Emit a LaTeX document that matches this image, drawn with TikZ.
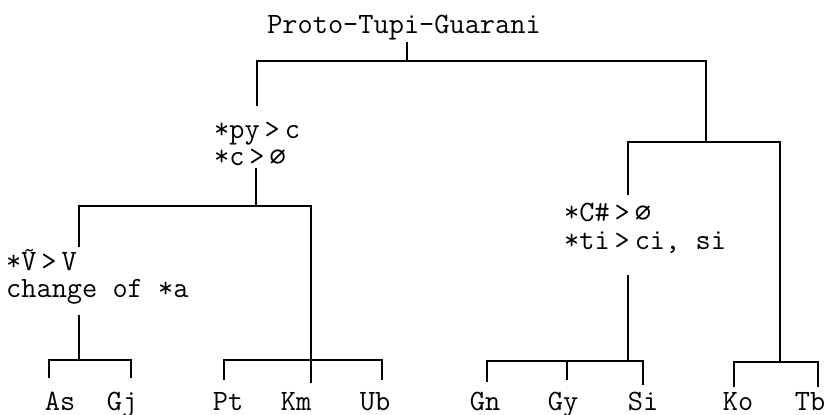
\documentclass[tikz,border=0pt]{standalone}
\usepackage{fontspec}
\newfontfamily\symf{DejaVu Sans Mono}
\newcommand{\nullsym}{{\symf\fontsize{27}{28}\selectfont ∅}}
\newcommand{\Vtil}{\leavevmode\rlap{\hbox to 0.525em{\hss\raisebox{0.42em}{\scalebox{0.8}[0.75]{\char"7E}}\hss}}V}
\tikzset{twfont/.style={font=\ttfamily\addfontfeatures{FakeBold=0.6}\fontsize{29.5}{30}\selectfont}}
\begin{document}
\begin{tikzpicture}[x=1pt,y=-1pt,
  lbl/.style={inner sep=0pt, twfont, anchor=base west},
  leaf/.style={inner sep=0pt, twfont, anchor=base},
  br/.style={line width=2.9pt, line join=miter}]
\useasboundingbox (0,0) rectangle (836,415);
% texts
\node[leaf] (title) at (404,33) {Proto-Tupi-Guarani};
\node[lbl] (pyA) at (214,138) {*py\,>\,c};
\node[lbl] (pyB) at (214,165) {*c\,>\,\nullsym};
\node[lbl] (vA) at (6,270) {*\Vtil\,>\,V};
\node[lbl] (vB) at (6,297) {change of *a};
\node[lbl] (cA) at (564,221) {*C\#\,>\,\nullsym};
\node[lbl] (cB) at (564,249) {*ti\,>\,ci, si};
\node[leaf] (As) at (60,410) {As};
\node[leaf] (Gj) at (122,410) {Gj};
\node[leaf] (Pt) at (228,410) {Pt};
\node[leaf] (Km) at (296,410) {Km};
\node[leaf] (Ub) at (375,410) {Ub};
\node[leaf] (Gn) at (485,410) {Gn};
\node[leaf] (Gy) at (563,410) {Gy};
\node[leaf] (Si) at (643,410) {Si};
\node[leaf] (Ko) at (738,410) {Ko};
\node[leaf] (Tb) at (810,410) {Tb};
% junction coordinates
\coordinate (T0) at (407,42);  \coordinate (J0) at (407,61);
\coordinate (L0) at (257,61);  \coordinate (L0e) at (257,106);
\coordinate (R0) at (706,61);  \coordinate (R0e) at (706,142);
\coordinate (S1) at (256,168); \coordinate (J1) at (256,206);
\coordinate (A1) at (79,206);  \coordinate (A1e) at (79,247);
\coordinate (B1) at (311,206); \coordinate (B1e) at (311,383);
\coordinate (S2) at (79,315);  \coordinate (J2) at (79,360);
\coordinate (As1) at (49,360); \coordinate (As2) at (49,378);
\coordinate (Gj1) at (131,360);\coordinate (Gj2) at (131,378);
\coordinate (Pt1) at (224,360);\coordinate (Pt2) at (224,380);
\coordinate (Ub1) at (382,360);\coordinate (Ub2) at (382,380);
\coordinate (C1) at (628,142); \coordinate (C1e) at (628,195);
\coordinate (D1) at (780,142); \coordinate (D1e) at (780,362);
\coordinate (S3) at (628,275); \coordinate (J3) at (628,361);
\coordinate (Gn1) at (487,361);\coordinate (Gn2) at (487,382);
\coordinate (Gy1) at (567,361);\coordinate (Gy2) at (567,380);
\coordinate (Si1) at (643,361);\coordinate (Si2) at (643,385);
\coordinate (Ko1) at (734,362);\coordinate (Ko2) at (734,387);
\coordinate (Tb1) at (818,362);\coordinate (Tb2) at (818,387);
% connectors
\draw[br] (T0) -- (J0);
\draw[br] (L0e) -- (L0) -- (R0) -- (R0e);
\draw[br] (S1) -- (J1);
\draw[br] (A1e) -- (A1) -- (B1) -- (B1e);
\draw[br] (S2) -- (J2);
\draw[br] (As2) -- (As1) -- (Gj1) -- (Gj2);
\draw[br] (Pt2) -- (Pt1) -- (Ub1) -- (Ub2);
\draw[br] (C1e) -- (C1) -- (D1) -- (D1e);
\draw[br] (S3) -- (J3);
\draw[br] (Gn2) -- (Gn1) -- (Si1) -- (Si2);
\draw[br] (Gy1) -- (Gy2);
\draw[br] (Ko2) -- (Ko1) -- (Tb1) -- (Tb2);
\end{tikzpicture}
\end{document}
